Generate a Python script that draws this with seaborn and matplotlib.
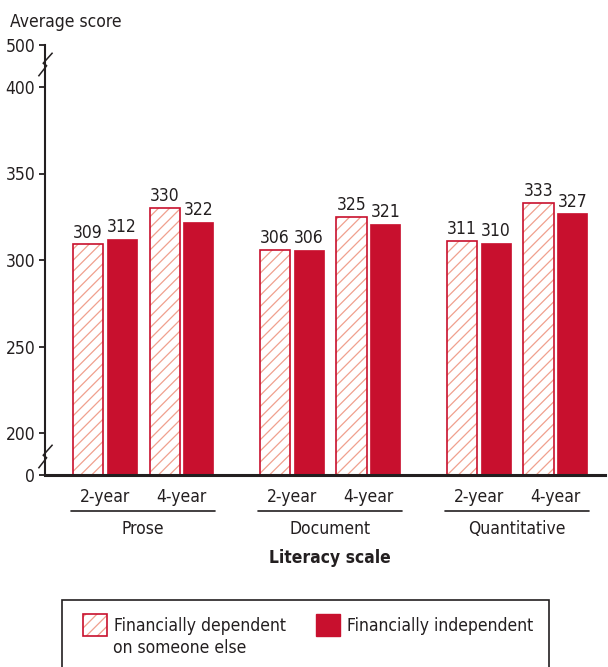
import numpy as np
import pandas as pd
import seaborn as sns
import matplotlib.pyplot as plt
from matplotlib import font_manager as fm
from matplotlib.patches import Patch, Rectangle
from matplotlib.path import Path

# data
scales = ['Prose', 'Document', 'Quantitative']
types = ['2-year', '4-year']
groups = ['Financially dependent\non someone else', 'Financially independent']
dependent = [309, 330, 306, 325, 311, 333]
independent = [312, 322, 306, 321, 310, 327]
yticks = [0, 200, 250, 300, 350, 400, 500]

red = '#c8102e'
hatch_col = '#f0a08e'
ink = '#231f20'

sns.set_style('white')
# prefer a narrow face if one is installed
cond = [f for f in fm.fontManager.ttflist
        if f.name.startswith('DejaVu Sans') and f.stretch == 'condensed' and f.weight in (400, 'normal')]
if cond:
    plt.rcParams['font.family'] = ['DejaVu Sans']
    plt.rcParams['font.stretch'] = 'condensed'
else:
    plt.rcParams['font.family'] = ['Liberation Sans', 'DejaVu Sans']
plt.rcParams['hatch.linewidth'] = 0.9
plt.rcParams['text.color'] = ink
fs = 12.5

# x position of each scale/type pair (groups spaced wider apart)
spread = 2.444
rows = []
for i, s in enumerate(scales):
    for j, t in enumerate(types):
        k = i * 2 + j
        pos = i * spread + j
        rows.append(dict(pos=pos, scale=s, type=t, group=groups[0], score=dependent[k]))
        rows.append(dict(pos=pos, scale=s, type=t, group=groups[1], score=independent[k]))
df = pd.DataFrame(rows)
positions = sorted(df['pos'].unique())

fig = plt.figure(figsize=(6.08, 6.67), dpi=100)
ax = fig.add_axes([45/608, 192/667, 560/608, 430/667])

# broken y axis: 0-200 and 400-500 squeezed
brk_v = [0, 200, 400, 500]
brk_p = [0, 42, 388, 430]
ax.set_yscale('function', functions=(lambda v: np.interp(v, brk_v, brk_p),
                                     lambda p: np.interp(p, brk_p, brk_v)))

sns.barplot(data=df, x='pos', y='score', hue='group', native_scale=True,
            width=0.88, gap=0.1, palette=[red, red], errorbar=None,
            legend=False, ax=ax)


def hatch_it(p):
    p.set_facecolor('white')
    p.set_edgecolor(red)
    p.set_linewidth(1.2)
    p.set_hatch('///')
    if hasattr(p, 'set_hatchcolor'):
        p.set_hatchcolor(hatch_col)
    else:
        p._hatch_color = plt.matplotlib.colors.to_rgba(hatch_col)


dep_bars, ind_bars = ax.containers[0], ax.containers[1]
for p in dep_bars:
    hatch_it(p)
for p in ind_bars:
    p.set_facecolor(red)
    p.set_edgecolor(red)
    p.set_linewidth(0.5)

ax.bar_label(dep_bars, labels=[str(v) for v in dependent], padding=2, fontsize=fs, color=ink)
ax.bar_label(ind_bars, labels=[str(v) for v in independent], padding=2, fontsize=fs, color=ink)

ax.set_ylim(0, 500)
ax.set_xlim(-0.784, 6.536)
ax.set_yticks(yticks)
ax.set_yticklabels([str(v) for v in yticks])
ax.set_xticks(positions)
ax.set_xticklabels(types * len(scales))
ax.tick_params(axis='x', length=0, pad=9, labelsize=fs, labelcolor=ink)
ax.tick_params(axis='y', left=True, length=4, width=1.3, color=ink, pad=3, labelsize=fs, labelcolor=ink)
ax.set_xlabel('')
ax.set_ylabel('')
sns.despine(ax=ax)
ax.spines['left'].set_color(ink)
ax.spines['left'].set_linewidth(1.5)
ax.spines['bottom'].set_color(ink)
ax.spines['bottom'].set_linewidth(2.2)

# axis break marks
zig = Path([(-6, -10), (1, -1), (-2, 1), (6, 10)])
for v in [90, 455]:
    ax.plot([ax.get_xlim()[0]], [v], marker=zig, markersize=17, color=ink,
            markerfacecolor='none', mew=1.1, clip_on=False, zorder=5)

# scale names with underline
xt = ax.get_xaxis_transform()
for i, s in enumerate(scales):
    x0 = positions[i * 2] - 0.44
    x1 = positions[i * 2 + 1] + 0.44
    ax.plot([x0, x1], [-0.084, -0.084], transform=xt, color=ink, lw=1.2, clip_on=False)
    ax.text((x0 + x1) / 2, -0.126, s, transform=xt, ha='center', va='center', fontsize=fs)
ax.text(positions[2] + 0.5, -0.193, 'Literacy scale', transform=xt, ha='center',
        va='center', fontsize=fs, fontweight='bold')

fig.text(10/608, 1 - 22/667, 'Average score', ha='left', va='center', fontsize=fs)

# legend: two entries placed by hand inside one frame
h_dep = Patch(linewidth=1.2)
hatch_it(h_dep)
h_ind = Patch(facecolor=red, edgecolor=red)
first, second = groups[0].split('\n')
for h, lab, x in [(h_dep, first, 83), (h_ind, groups[1], 316)]:
    fig.legend([h], [lab], loc='center left', bbox_to_anchor=(x/608, 1 - 625/667),
               frameon=False, borderpad=0, borderaxespad=0, handlelength=1.4,
               handleheight=1.6, handletextpad=0.4, fontsize=fs)
fig.text(113/608, 1 - 648/667, second, ha='left', va='center', fontsize=fs)
fig.add_artist(Rectangle((62/608, -0.02), 487/608, 0.02 + 67/667, transform=fig.transFigure,
                         fill=False, edgecolor=ink, linewidth=1.2))

fig.savefig('out.png', dpi=100)
